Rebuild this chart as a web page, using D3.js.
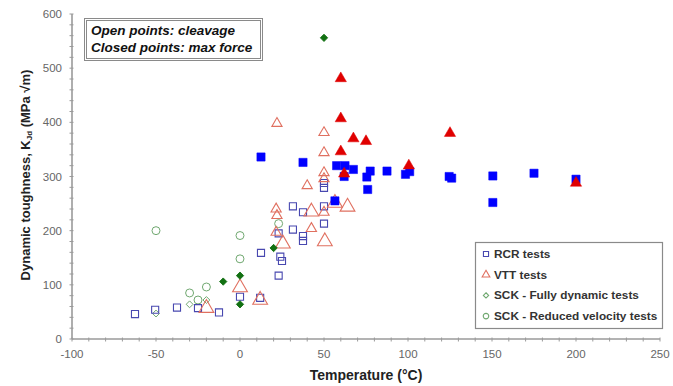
<!DOCTYPE html>
<html>
<head>
<meta charset="utf-8">
<script src="https://cdn.jsdelivr.net/npm/d3@7"></script>
<style>
  html, body { margin: 0; padding: 0; background: #fff; }
  svg { display: block; font-family: Arial, "Liberation Sans", sans-serif; }
</style>
</head>
<body>
<svg id="chart" width="673" height="386"></svg>
<script>
// Dynamic fracture toughness vs temperature, [temperature °C, K_Jd MPa√m]

// RCR tests
const rcrCleavage = [
  [-62.5, 46], [-50.5, 54], [-37.5, 58], [-25, 57], [-12.5, 49],
  [0, 78], [12, 76], [12.5, 159], [23, 195], [24, 152], [25, 144], [23, 117],
  [31.5, 245], [31.5, 202], [37.5, 234], [37.5, 190], [37.5, 181],
  [50, 288], [50, 279], [50, 245], [50, 213]
];
const rcrMaxForce = [
  [12.5, 336], [37.5, 326], [57.5, 320], [62.5, 320], [62, 300], [67.5, 313],
  [75.5, 299], [76, 276], [77.5, 310], [87.5, 310], [98.5, 304], [101, 309],
  [124.5, 300], [126, 297], [150.5, 301], [150.5, 252], [175, 306], [200, 295],
  [56.5, 255]
];

// VTT tests (second batch uses the larger specimen marker)
const vttCleavage = [
  [22, 398], [50, 381], [50, 344], [50, 307], [50, 296], [40, 283],
  [21.5, 240], [22, 228], [21.5, 197], [42.5, 204], [50, 234]
];
const vttCleavageB = [
  [25.5, 176], [42.5, 235], [50.5, 180], [56.5, 251], [64, 244],
  [0, 95], [12, 72], [-20, 57]
];
const vttMaxForce = [
  [60, 481], [60, 407], [67.5, 370], [75, 365], [60, 346], [62, 305],
  [100.5, 320], [125, 380], [200, 288]
];

// SCK tests
const sckDynamicCleavage = [[-50, 47], [-30, 64], [-20, 72]];
const sckDynamicMaxForce = [[50, 556], [20, 168], [-10, 106], [0, 117], [0, 64]];
const sckReducedCleavage = [
  [-50, 200], [0, 191], [0, 148], [-20, 96], [-30, 85], [-25, 72], [23, 213]
];

const xTicks = [-100, -50, 0, 50, 100, 150, 200, 250];
const yTicks = [0, 100, 200, 300, 400, 500, 600];
const legendLabels = [
  "RCR tests", "VTT tests",
  "SCK - Fully dynamic tests", "SCK - Reduced velocity tests"
];
const noteLines = ["Open points: cleavage", "Closed points: max force"];

const svg = d3.select("#chart");
const x = d3.scaleLinear().domain([-100, 250]).range([72, 660]);
const y = d3.scaleLinear().domain([0, 600]).range([339, 14]);

const axisColor = "#9a9a9a";
const labelColor = "#666";

// minor ticks
const g = svg.append("g");
g.selectAll("line.xm").data(d3.range(-100, 251, 10)).join("line")
  .attr("x1", d => x(d)).attr("x2", d => x(d))
  .attr("y1", y(0) - 1.5).attr("y2", y(0) + 2.5)
  .attr("stroke", axisColor).attr("stroke-width", 1);
g.selectAll("line.ym").data(d3.range(0, 601, 20)).join("line")
  .attr("x1", x(-100) - 2.5).attr("x2", x(-100) + 1.5)
  .attr("y1", d => y(d)).attr("y2", d => y(d))
  .attr("stroke", axisColor).attr("stroke-width", 1);

// axes lines
g.append("line").attr("x1", x(-100)).attr("x2", x(250))
  .attr("y1", y(0)).attr("y2", y(0)).attr("stroke", axisColor).attr("stroke-width", 1.6);
g.append("line").attr("x1", x(-100)).attr("x2", x(-100))
  .attr("y1", y(0)).attr("y2", y(600)).attr("stroke", axisColor).attr("stroke-width", 1.6);

// tick labels
g.selectAll("text.xl").data(xTicks).join("text")
  .attr("x", d => x(d)).attr("y", 358)
  .attr("text-anchor", "middle").attr("font-size", 11.5).attr("fill", labelColor)
  .text(d => d);
g.selectAll("text.yl").data(yTicks).join("text")
  .attr("x", 62).attr("y", d => y(d) + 4)
  .attr("text-anchor", "end").attr("font-size", 11.5).attr("fill", labelColor)
  .text(d => d);

// axis titles
svg.append("text").attr("x", 366).attr("y", 380).attr("text-anchor", "middle")
  .attr("font-size", 14).attr("font-weight", "bold").attr("fill", "#222")
  .text("Temperature (°C)");
const yt = svg.append("text")
  .attr("transform", "translate(30,175) rotate(-90)")
  .attr("text-anchor", "middle").attr("font-size", 13)
  .attr("font-weight", "bold").attr("fill", "#222");
yt.append("tspan").text("Dynamic toughness, K");
yt.append("tspan").attr("font-size", 8).attr("dy", 2).text("Jd");
yt.append("tspan").attr("dy", -2).text(" (MPa \u221Am)");

// marker drawing helpers
const sym = (type, size) => d3.symbol().type(type).size(size);
function plot(data, type, size, fill, stroke, sw) {
  svg.append("g").selectAll("path").data(data).join("path")
    .attr("transform", d => `translate(${x(d[0])},${y(d[1])})`)
    .attr("d", sym(type, size)())
    .attr("fill", fill).attr("stroke", stroke).attr("stroke-width", sw);
}

const rcrStroke = "#4848b0", rcrFill = "#0000ff";
const vttStroke = "#e07060", vttFill = "#e00000";
const sckOpen = "#70a870", sckFill = "#127012";

plot(sckReducedCleavage, d3.symbolCircle, 50, "none", sckOpen, 1);
plot(sckDynamicCleavage, d3.symbolDiamond2, 30, "none", sckOpen, 1);
plot(rcrCleavage, d3.symbolSquare, 50, "none", rcrStroke, 1.1);
plot(vttCleavage, d3.symbolTriangle, 45, "none", vttStroke, 1.1);
plot(vttCleavageB, d3.symbolTriangle, 95, "none", vttStroke, 1.1);
plot(rcrMaxForce, d3.symbolSquare, 68, rcrFill, rcrFill, 0.5);
plot(vttMaxForce, d3.symbolTriangle, 55, vttFill, vttFill, 0.5);
plot(sckDynamicMaxForce, d3.symbolDiamond2, 34, sckFill, sckFill, 0.9);

// note box
const note = svg.append("g");
note.append("rect").attr("x", 84.5).attr("y", 18.5).attr("width", 178).attr("height", 42)
  .attr("fill", "#fff").attr("stroke", "#8a8a8a").attr("stroke-width", 1);
note.append("rect").attr("x", 86.5).attr("y", 20.5).attr("width", 174).attr("height", 38)
  .attr("fill", "none").attr("stroke", "#8a8a8a").attr("stroke-width", 1);
note.selectAll("text").data(noteLines).join("text")
  .attr("x", 91).attr("y", (d, i) => 35 + i * 17)
  .attr("font-size", 13.5).attr("font-weight", "bold").attr("font-style", "italic")
  .attr("fill", "#111").text(d => d);

// legend
const lg = svg.append("g");
lg.append("rect").attr("x", 475.5).attr("y", 242.5).attr("width", 187).attr("height", 86)
  .attr("fill", "#fff").attr("stroke", "#8a8a8a").attr("stroke-width", 1.2);
const legendMarks = [
  { type: d3.symbolSquare, size: 26, stroke: rcrStroke },
  { type: d3.symbolTriangle, size: 26, stroke: vttStroke },
  { type: d3.symbolDiamond2, size: 18, stroke: sckOpen },
  { type: d3.symbolCircle, size: 24, stroke: sckOpen }
];
const rows = lg.selectAll("g.row").data(legendLabels).join("g")
  .attr("transform", (d, i) => `translate(486,${254 + i * 20.7})`);
rows.append("path")
  .attr("d", (d, i) => sym(legendMarks[i].type, legendMarks[i].size)())
  .attr("fill", "none").attr("stroke", (d, i) => legendMarks[i].stroke).attr("stroke-width", 1.1);
rows.append("text").attr("x", 8).attr("y", 4)
  .attr("font-size", 11.8).attr("font-weight", "bold").attr("fill", "#333")
  .text(d => d);
</script>
</body>
</html>
